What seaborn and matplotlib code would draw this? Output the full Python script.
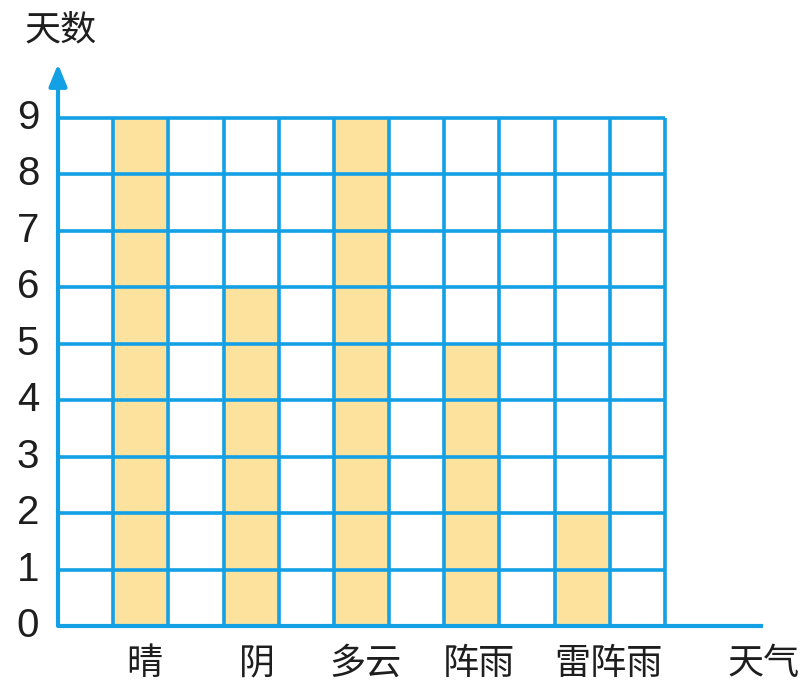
import numpy as np
import pandas as pd
import matplotlib
matplotlib.use("Agg")
import matplotlib.pyplot as plt
import seaborn as sns

# weather type vs. number of days
weather = ["晴", "阴", "多云", "阵雨", "雷阵雨"]
days = [9, 6, 9, 5, 2]
y_ticks = [0, 1, 2, 3, 4, 5, 6, 7, 8, 9]
y_title = "天数"
x_title = "天气"

sns.set_theme(style="white")
plt.rcParams["font.family"] = ["Noto Sans CJK SC", "DejaVu Sans"]

BLUE = "#14a0e4"
FILL = "#fce29c"
INK = "#1e1e1e"

# every weather type sits in every other grid column
slot = np.arange(len(weather)) * 2 + 1.5
df = pd.DataFrame({"pos": slot, "days": days, "weather": weather})

fig = plt.figure(figsize=(8.11, 6.88), dpi=100)
ax = fig.add_axes([0, 0, 1, 1])

sns.barplot(data=df, x="pos", y="days", native_scale=True, width=0.5,
            color=FILL, saturation=1, linewidth=0, ax=ax, zorder=1)

n_cols = 11
n_rows = max(y_ticks)

# pixel-like frame: origin at (58, 626), 55.2 px per column, 56.45 px per day
px_x, px_y = 55.18, 56.45
ax.set_xlim(-58 / px_x, (811 - 58) / px_x)
ax.set_ylim(-(688 - 626) / px_y, 626 / px_y)
ax.axis("off")

lw = 2.6
for r in range(1, n_rows + 1):
    ax.plot([0, n_cols], [r, r], color=BLUE, lw=lw, zorder=3,
            solid_capstyle="butt")
for c in range(1, n_cols + 1):
    ax.plot([c, c], [0, n_rows], color=BLUE, lw=lw, zorder=3,
            solid_capstyle="butt")

# x axis runs past the grid
ax.plot([0, (763 - 58) / px_x], [0, 0], color=BLUE, lw=lw + 0.4, zorder=4,
        solid_capstyle="butt")
# y axis with arrow
ax.annotate("", xy=(0, (626 - 64) / px_y), xytext=(0, 0),
            arrowprops=dict(arrowstyle="-|>,head_length=1.1,head_width=0.45",
                            color=BLUE, lw=lw + 0.4, shrinkA=0, shrinkB=0),
            zorder=4)

# y tick labels
for v in y_ticks:
    ax.text(-30 / px_x, v, str(v), ha="center", va="center",
            fontsize=29, family=["Liberation Sans", "DejaVu Sans"],
            color=INK)

# category labels under the columns
label_x = [1.56, 3.61, 5.58, 7.63, 9.97]
label_y = -(664 - 626) / px_y
for x, name in zip(label_x, weather):
    ax.text(x, label_y, name, ha="center", va="center",
            fontsize=26, fontweight="light", color=INK)

ax.text((764 - 58) / px_x, label_y, x_title, ha="center",
        va="center", fontsize=26, fontweight="light", color=INK)
ax.text((61 - 58) / px_x, (626 - 30) / px_y, y_title, ha="center",
        va="center", fontsize=26, fontweight="light", color=INK)

fig.savefig("out.png", dpi=100)
